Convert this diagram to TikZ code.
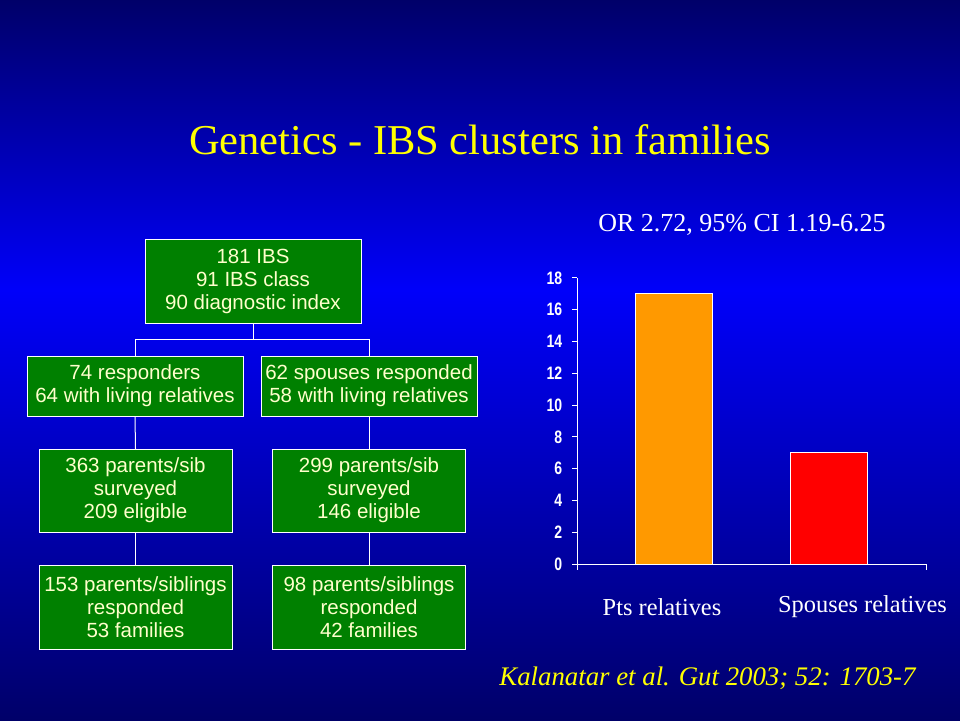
\documentclass[tikz,border=0pt]{standalone}
\usepackage{fontspec}
\setmainfont{Liberation Serif}
\newfontfamily\boxfont{Liberation Sans}
\newfontfamily\axisfont[FakeStretch=0.78]{Liberation Sans}
\definecolor{slidedark}{RGB}{0,0,105}
\definecolor{slidebright}{RGB}{0,0,250}
\definecolor{boxgreen}{RGB}{0,128,0}
\definecolor{boxtext}{RGB}{255,255,204}
\definecolor{titleyellow}{RGB}{255,255,0}
\definecolor{barorange}{RGB}{255,153,0}
\begin{document}
\begin{tikzpicture}[x=1pt,y=-1pt,thin,
    stage box/.style={draw=white,fill=boxgreen,text=boxtext,align=center,inner sep=0pt,
      font=\boxfont\fontsize{20.5}{23}\selectfont},
    link/.style={draw=white,line width=1pt},
    bar/.style={draw=white,line width=1pt},
    tick label/.style={anchor=east,text=white,font=\axisfont\bfseries\fontsize{18}{18}\selectfont},
    cat label/.style={text=white,font=\fontsize{24.4}{28}\selectfont}]
    % background
    \useasboundingbox (0,0) rectangle (960,720);
    \shade[top color=slidedark,bottom color=slidebright] (0,0) rectangle (960,290);
    \shade[top color=slidebright,bottom color=slidedark] (0,290) rectangle (960,720);

    \node[text=titleyellow,font=\fontsize{42.5}{50}\selectfont] at (480,140) (title) {Genetics - IBS clusters in families};

    % flow chart
    \node[stage box,minimum width=216pt,minimum height=84pt] at (253,281) (ibs) {181 IBS\\91 IBS class\\90 diagnostic index};
    \node[stage box,minimum width=216pt,minimum height=60pt] at (135,386) (pts) {74 responders\\64 with living relatives};
    \node[stage box,minimum width=216pt,minimum height=60pt] at (369,386) (sps) {62 spouses responded\\58 with living relatives};
    \node[stage box,minimum width=193pt,minimum height=83pt] at (135.5,490.5) (ptsurv) {363 parents/sib\\surveyed\\209 eligible};
    \node[stage box,minimum width=193pt,minimum height=83pt] at (369,490.5) (spsurv) {299 parents/sib\\surveyed\\146 eligible};
    \node[stage box,minimum width=193pt,minimum height=84pt] at (135.5,607) (ptresp) {153 parents/siblings\\responded\\53 families};
    \node[stage box,minimum width=193pt,minimum height=84pt] at (369,607) (spresp) {98 parents/siblings\\responded\\42 families};

    \coordinate (split) at (253,339);
    \draw[link] (ibs.south) -- (split);
    \draw[link] (split) -| (pts.north);
    \draw[link] (split) -| (sps.north);
    \draw[link] (pts.south) -- (ptsurv.north);
    \draw[link] (sps.south) -- (spsurv.north);
    \draw[link] (ptsurv.south) -- (ptresp.north);
    \draw[link] (spsurv.south) -- (spresp.north);

    % bar chart
    \node[text=white,font=\fontsize{26}{30}\selectfont] at (742,225) (ortext) {OR 2.72, 95\% CI 1.19-6.25};
    \coordinate (origin) at (577,564);
    \coordinate (ytop) at (577,278);
    \coordinate (xend) at (926,564);
    \draw[link] (ytop) -- (577,570);
    \draw[link] (origin) -- (xend) -- (926,570);
    \foreach \v in {0,2,...,18}
      \draw[link] (572,564-15.89*\v) -- (577,564-15.89*\v)
        node[tick label,pos=0,xshift=-6pt] {\v};
    \draw[bar,fill=barorange] (635,564) rectangle (712,293.9);
    \draw[bar,fill=red] (790,564) rectangle (867,452.8);
    \node[cat label] at (662,607) (ptslab) {Pts relatives};
    \node[cat label] at (862.5,607) (spslab) {Spouses relatives};

    \node[text=titleyellow,font=\itshape\fontsize{26.8}{30}\selectfont] at (707.5,678) (cite) {Kalanatar et al. Gut 2003; 52: 1703-7};
\end{tikzpicture}
\end{document}
